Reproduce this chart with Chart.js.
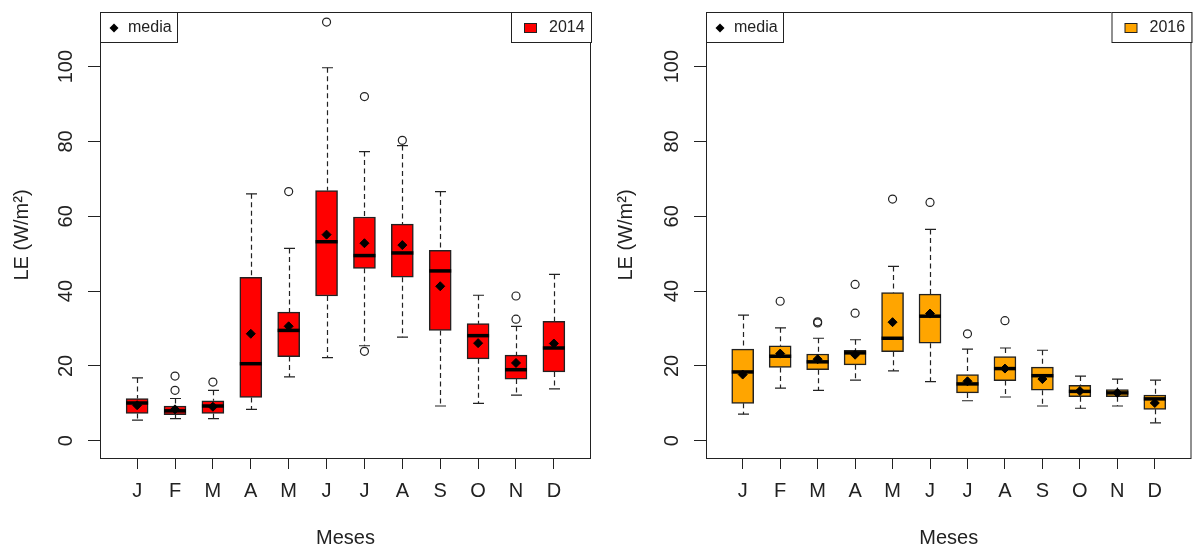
<!DOCTYPE html>
<html lang="es">
<head>
<meta charset="utf-8">
<title>LE mensual 2014 - 2016</title>
<script src="https://cdn.jsdelivr.net/npm/chart.js@4.4.1/dist/chart.umd.min.js"></script>
<style>
body { margin: 0; background: #fff; }
#wrap { display: flex; width: 1197px; height: 550px; }
canvas { display: block; }
</style>
</head>
<body>
<div id="wrap">
<canvas id="g2014" width="600" height="550"></canvas>
<canvas id="g2016" width="597" height="550"></canvas>
</div>
<script>
// meses y ticks
const meses = ['J', 'F', 'M', 'A', 'M', 'J', 'J', 'A', 'S', 'O', 'N', 'D'];
const ticksY = [0, 20, 40, 60, 80, 100];

// 2014 (W/m²)
const min2014 = [5.5, 5.9, 5.9, 8.4, 17.1, 22.2, 25.4, 27.7, 9.3, 10.0, 12.2, 13.9];
const q1_2014 = [7.3, 7.0, 7.3, 11.6, 22.5, 38.7, 46.1, 43.7, 29.5, 21.9, 16.5, 18.4];
const med2014 = [10.1, 8.0, 9.3, 20.6, 29.5, 53.2, 49.5, 50.2, 45.4, 28.1, 19.0, 24.8];
const q3_2014 = [11.3, 9.3, 10.7, 43.7, 34.4, 66.9, 59.8, 57.9, 50.9, 31.3, 22.9, 31.9];
const max2014 = [16.8, 11.3, 13.5, 66.0, 51.4, 99.7, 77.3, 78.9, 66.6, 38.9, 30.6, 44.5];
const media2014 = [9.5, 8.4, 9.1, 28.6, 30.6, 55.1, 52.8, 52.3, 41.3, 26.1, 20.8, 26.0];
const atip2014 = [[], [17.3, 13.5], [15.7], [], [66.6], [111.9], [92.0, 23.9], [80.3], [], [], [38.7, 32.5], []];

// 2016 (W/m²)
const min2016 = [7.1, 14.1, 13.5, 16.2, 18.7, 15.8, 10.7, 11.7, 9.3, 8.7, 9.3, 4.8];
const q1_2016 = [10.0, 19.6, 19.0, 20.3, 23.8, 26.1, 12.8, 16.1, 13.5, 11.8, 11.8, 8.4];
const med2016 = [18.4, 22.6, 21.1, 23.5, 27.4, 33.3, 15.2, 19.3, 17.4, 13.2, 12.8, 11.2];
const q3_2016 = [24.5, 25.4, 23.2, 24.2, 39.6, 39.2, 17.7, 22.5, 19.7, 14.8, 13.7, 12.2];
const max2016 = [33.6, 30.2, 27.4, 27.0, 46.6, 56.5, 24.5, 24.8, 24.2, 17.3, 16.5, 16.2];
const media2016 = [17.7, 23.3, 21.8, 23.0, 31.7, 34.0, 15.9, 19.3, 16.5, 13.3, 12.8, 10.1];
const atip2016 = [[], [37.3], [31.5, 31.8], [41.8, 34.1], [64.6], [63.7], [28.6], [32.1], [], [], [], []];

const fuente = '"Liberation Sans", Arial, sans-serif';
const tinta = '#222';
const anchoCaja = 22;

// bigotes, medianas, marco, etiquetas del eje y y leyendas
const cajasPlugin = {
  id: 'cajas',
  beforeDatasetsDraw(chart) {
    const o = chart.options.plugins.cajas;
    const { ctx, scales: { x, y } } = chart;
    const tope = anchoCaja / 4;
    ctx.save();
    ctx.strokeStyle = tinta;
    ctx.lineWidth = 1.2;
    o.q1.forEach((_, i) => {
      const px = Math.round(x.getPixelForValue(i + 1)) + 0.5;
      ctx.setLineDash([5, 3.5]);
      ctx.beginPath();
      ctx.moveTo(px, y.getPixelForValue(o.max[i]));
      ctx.lineTo(px, y.getPixelForValue(o.q3[i]));
      ctx.moveTo(px, y.getPixelForValue(o.q1[i]));
      ctx.lineTo(px, y.getPixelForValue(o.min[i]));
      ctx.stroke();
      ctx.setLineDash([]);
      ctx.beginPath();
      ctx.moveTo(px - tope, y.getPixelForValue(o.max[i]));
      ctx.lineTo(px + tope, y.getPixelForValue(o.max[i]));
      ctx.moveTo(px - tope, y.getPixelForValue(o.min[i]));
      ctx.lineTo(px + tope, y.getPixelForValue(o.min[i]));
      ctx.stroke();
    });
    ctx.restore();
  },
  afterDatasetDraw(chart, args) {
    if (args.index !== 0) return;
    const o = chart.options.plugins.cajas;
    const { ctx, scales: { y } } = chart;
    ctx.save();
    ctx.strokeStyle = '#000';
    ctx.lineWidth = 3.5;
    args.meta.data.forEach((bar, i) => {
      const py = y.getPixelForValue(o.med[i]);
      ctx.beginPath();
      ctx.moveTo(bar.x - bar.width / 2, py);
      ctx.lineTo(bar.x + bar.width / 2, py);
      ctx.stroke();
    });
    ctx.restore();
  },
  afterDraw(chart) {
    const o = chart.options.plugins.cajas;
    const { ctx, chartArea: a, scales: { y } } = chart;
    ctx.save();
    // marco
    ctx.strokeStyle = tinta;
    ctx.lineWidth = 1;
    ctx.strokeRect(a.left + 0.5, a.top + 0.5, a.right - a.left - 1, a.bottom - a.top);

    // etiquetas del eje y, giradas
    ctx.fillStyle = tinta;
    ctx.font = '20px ' + fuente;
    ctx.textAlign = 'center';
    ctx.textBaseline = 'middle';
    y.ticks.forEach(t => {
      ctx.save();
      ctx.translate(o.xEtiquetaY, y.getPixelForValue(t.value));
      ctx.rotate(-Math.PI / 2);
      ctx.fillText(String(t.value), 0, 0);
      ctx.restore();
    });

    // leyenda "media"
    const dsCaja = chart.data.datasets[0];
    const dsMedia = chart.data.datasets[2];
    ctx.font = '16px ' + fuente;
    ctx.textAlign = 'left';
    ctx.fillStyle = '#fff';
    ctx.fillRect(a.left, a.top, 77, 30);
    ctx.strokeRect(a.left + 0.5, a.top + 0.5, 77, 30);
    ctx.fillStyle = '#000';
    const dx = a.left + 14, dy = a.top + 16;
    ctx.beginPath();
    ctx.moveTo(dx, dy - 4.5); ctx.lineTo(dx + 4.5, dy); ctx.lineTo(dx, dy + 4.5); ctx.lineTo(dx - 4.5, dy);
    ctx.closePath();
    ctx.fill();
    ctx.fillStyle = tinta;
    ctx.fillText(dsMedia.label, a.left + 28, a.top + 16);

    // leyenda del año
    const lx = a.right - 80;
    ctx.fillStyle = '#fff';
    ctx.fillRect(lx, a.top, 80, 30);
    ctx.strokeRect(lx + 0.5, a.top + 0.5, 80, 30);
    ctx.fillStyle = dsCaja.backgroundColor;
    ctx.fillRect(lx + 13.5, a.top + 11.5, 12, 9);
    ctx.strokeRect(lx + 13.5, a.top + 11.5, 12, 9);
    ctx.fillStyle = tinta;
    ctx.fillText(dsCaja.label, lx + 38, a.top + 16);
    ctx.restore();
  }
};

function puntosAtipicos(lista) {
  const pts = [];
  lista.forEach((vals, i) => vals.forEach(v => pts.push({ x: i + 1, y: v })));
  return pts;
}

function crearGrafico(id, anio, color, min, q1, med, q3, max, media, atip, ajuste) {
  const ctx = document.getElementById(id).getContext('2d');
  return new Chart(ctx, {
    type: 'bar',
    data: {
      datasets: [
        {
          type: 'bar',
          label: anio,
          data: q1.map((v, i) => ({ x: i + 1, y: [v, q3[i]] })),
          backgroundColor: color,
          borderColor: tinta,
          borderWidth: 1.5,
          borderSkipped: false,
          barThickness: anchoCaja,
          order: 3,
        },
        {
          type: 'scatter',
          label: 'atípicos',
          data: puntosAtipicos(atip),
          pointStyle: 'circle',
          pointRadius: 4,
          pointBackgroundColor: 'rgba(0,0,0,0)',
          pointBorderColor: tinta,
          pointBorderWidth: 1.2,
          order: 2,
        },
        {
          type: 'scatter',
          label: 'media',
          data: media.map((v, i) => ({ x: i + 1, y: v })),
          pointStyle: 'rectRot',
          pointRadius: 4.5,
          pointBackgroundColor: '#000',
          pointBorderColor: '#000',
          pointBorderWidth: 1,
          order: 1,
        },
      ],
    },
    options: {
      responsive: false,
      animation: false,
      events: [],
      layout: { padding: { top: 11, right: ajuste.derecha, left: 0, bottom: 0 } },
      plugins: {
        legend: { display: false },
        tooltip: { enabled: false },
        cajas: { min, q1, med, q3, max, xEtiquetaY: ajuste.xEtiquetaY },
      },
      scales: {
        x: {
          type: 'linear',
          min: 0.02,
          max: 12.98,
          offset: false,
          afterBuildTicks: s => { s.ticks = meses.map((m, i) => ({ value: i + 1 })); },
          afterFit: s => { s.height = 92; },
          grid: { drawOnChartArea: false, drawTicks: true, tickLength: 11, color: tinta, offset: false },
          border: { display: false },
          ticks: {
            autoSkip: false, maxRotation: 0, minRotation: 0, padding: 10, color: tinta,
            font: { size: 20, family: fuente },
            callback: v => meses[v - 1],
          },
          title: {
            display: true, text: 'Meses', color: tinta,
            font: { size: 20, family: fuente, lineHeight: 1 },
            padding: { top: 0, bottom: 2 },
          },
        },
        y: {
          type: 'linear',
          min: -4.6,
          max: 114.6,
          afterBuildTicks: s => { s.ticks = ticksY.map(v => ({ value: v })); },
          afterFit: s => { s.width = ajuste.anchoY; },
          grid: { drawOnChartArea: false, drawTicks: true, tickLength: 12, color: tinta },
          border: { display: false },
          ticks: { color: 'rgba(0,0,0,0)', font: { size: 20, family: fuente }, padding: 0 },
          title: {
            display: true, text: 'LE (W/m²)', color: tinta,
            font: { size: 20, family: fuente, lineHeight: 1 },
            padding: { top: ajuste.tituloY, bottom: 0 },
          },
        },
      },
    },
    plugins: [cajasPlugin],
  });
}

crearGrafico('g2014', '2014', '#FF0000', min2014, q1_2014, med2014, q3_2014, max2014, media2014, atip2014,
  { derecha: 9, anchoY: 100, xEtiquetaY: 66, tituloY: 12 });
crearGrafico('g2016', '2016', '#FFA500', min2016, q1_2016, med2016, q3_2016, max2016, media2016, atip2016,
  { derecha: 2, anchoY: 106, xEtiquetaY: 72, tituloY: 16.7 });
</script>
</body>
</html>
